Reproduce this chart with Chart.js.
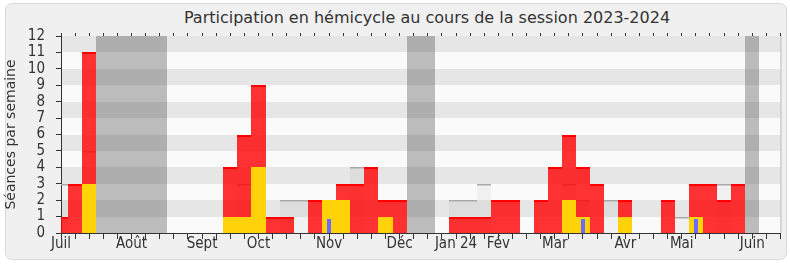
<!DOCTYPE html>
<html>
<head>
<meta charset="utf-8">
<script src="https://cdn.jsdelivr.net/npm/chart.js@4/dist/chart.umd.min.js"></script>
<style>
  body { margin: 0; background: #fff; }
  #wrap { position: relative; width: 790px; height: 267px; }
  #panel { position: absolute; left: 5px; top: 3px; width: 780px; height: 255px;
           background: #f0f0f0; border: 1px solid #d9d9d9; border-radius: 7px; }
  #title { position: absolute; left: 177px; width: 500px; top: 8px; line-height: 22px;
           text-align: center; font: 16px 'DejaVu Sans'; color: #333; }
  canvas { position: absolute; left: 0; top: 0; }
</style>
</head>
<body>
<div id="wrap">
  <div id="panel"></div>
  <div id="title">Participation en hémicycle au cours de la session 2023-2024</div>
  <canvas id="chart" width="790" height="267"></canvas>
</div>
<script>
// one value per week, week 0 = start of July 2023
const weeks = Array.from({length: 52}, (_, i) => i);

const monthLabels = {0: "Juil", 5: "Août", 10: "Sept", 14: "Oct", 19: "Nov", 24: "Déc",
  28: "Jan 24", 31: "Fév", 35: "Mar", 40: "Avr", 44: "Mai", 49: "Juin"};

const vacances = [3, 4, 5, 6, 7, 25, 26, 49];

// séances en hémicycle (rouge)
const seances = [1, 3, 11, 0, 0, 0, 0, 0, 0, 0, 0, 0, 4, 6, 9, 1, 1, 0, 2, 2,
  3, 3, 4, 2, 2, 0, 0, 0, 1, 1, 1, 2, 2, 0, 2, 4, 6, 4, 3, 0,
  2, 0, 0, 2, 0, 3, 3, 2, 3, 0, 0, 0];

// interventions (jaune)
const interventions = [0, 0, 3, 0, 0, 0, 0, 0, 0, 0, 0, 0, 1, 1, 4, 0, 0, 0, 0, 2,
  2, 0, 0, 1, 0, 0, 0, 0, 0, 0, 0, 0, 0, 0, 0, 0, 2, 1, 0, 0,
  1, 0, 0, 0, 0, 1, 0, 0, 0, 0, 0, 0];

// questions orales (bleu)
const questions = [0, 0, 0, 0, 0, 0, 0, 0, 0, 0, 0, 0, 0, 0, 0, 0, 0, 0, 0, 0.87,
  0, 0, 0, 0, 0, 0, 0, 0, 0, 0, 0, 0, 0, 0, 0, 0, 0, 0.87, 0, 0,
  0, 0, 0, 0, 0, 0.87, 0, 0, 0, 0, 0, 0];

// présence médiane (gris)
const mediane = [3, 0, 5, 0, 0, 0, 0, 0, 0, 0, 0, 0, 0, 3, 0, 0, 2, 2, 0, 0,
  0, 4, 0, 0, 0, 0, 0, 0, 2, 2, 3, 0, 0, 0, 0, 0, 3, 2, 0, 2,
  0, 0, 0, 0, 1, 0, 0, 3, 0, 0, 0, 0];

const yMax = 12;

const pts = arr => weeks.map(w => ({x: w, y: arr[w] ? arr[w] : null}));

const bands = {
  id: "bands",
  beforeDraw(chart) {
    const {ctx, chartArea: a, scales: {y}} = chart;
    ctx.save();
    for (let v = 0; v < yMax; v++) {
      const top = Math.round(y.getPixelForValue(v + 1)), bottom = Math.round(y.getPixelForValue(v));
      ctx.fillStyle = v % 2 ? "#e6e6e6" : "#fafafa";
      ctx.fillRect(a.left, top, a.right - a.left, bottom - top);
    }
    ctx.strokeStyle = "#bbbbbb";
    ctx.beginPath();
    ctx.moveTo(a.right + 0.5, a.top);
    ctx.lineTo(a.right + 0.5, a.bottom);
    ctx.stroke();
    ctx.restore();
  }
};

// snap bar edges to whole pixels so neighbouring weeks join without seams
const snap = {
  id: "snap",
  afterDatasetsUpdate(chart) {
    chart.getSortedVisibleDatasetMetas().forEach(meta => {
      meta.data.forEach(el => {
        const l = Math.round(el.x - el.width / 2), r = Math.round(el.x + el.width / 2);
        el.x = (l + r) / 2;
        el.width = r - l;
        el.y = Math.round(el.y);
        el.base = Math.round(el.base);
        el.height = el.base - el.y;
      });
    });
  }
};

const tickFont = {family: "'DejaVu Sans Condensed', 'DejaVu Sans'", size: 15, lineHeight: 1};

new Chart(document.getElementById("chart"), {
  type: "bar",
  data: {
    datasets: [
      {
        data: weeks.map(w => ({x: w, y: vacances.includes(w) ? yMax : null})),
        backgroundColor: "rgba(47,47,47,0.3)",
        order: 5
      },
      {
        data: pts(mediane),
        backgroundColor: "rgba(0,0,0,0.035)",
        borderColor: "#a9a9a9",
        borderWidth: {top: 1.5, left: 0, right: 0, bottom: 0},
        order: 4
      },
      {
        data: pts(seances),
        backgroundColor: "rgba(255,0,0,0.8)",
        borderColor: "#ff0000",
        borderWidth: {top: 2, left: 0, right: 0, bottom: 0},
        order: 3
      },
      {
        data: pts(interventions),
        backgroundColor: "#ffd20a",
        order: 2
      },
      {
        data: pts(questions),
        backgroundColor: "#6b6bff",
        barThickness: 4,
        order: 1
      }
    ]
  },
  options: {
    responsive: false,
    animation: false,
    events: [],
    layout: {padding: {left: 3, right: 9.5, top: 33, bottom: 0}},
    datasets: {
      bar: {grouped: false, barPercentage: 1, categoryPercentage: 1, inflateAmount: 0, clip: 0}
    },
    plugins: {
      legend: {display: false},
      tooltip: {enabled: false}
    },
    scales: {
      x: {
        type: "linear",
        offset: false,
        min: 0,
        max: 51,
        afterFit: s => { s.height = 34; },
        grid: {drawOnChartArea: false, tickLength: 6, tickColor: "#333", offset: false},
        border: {color: "#333"},
        ticks: {
          stepSize: 1,
          autoSkip: false,
          maxRotation: 0,
          padding: -2,
          color: "#333",
          font: tickFont,
          callback: v => monthLabels[v] || ""
        }
      },
      x2: {
        type: "linear",
        position: "top",
        offset: false,
        min: 0,
        max: 51,
        afterFit: s => { s.height = 3; },
        grid: {drawOnChartArea: false, tickLength: 3, tickColor: "#333", offset: false},
        border: {display: false},
        ticks: {stepSize: 1, autoSkip: false, display: false}
      },
      y: {
        min: 0,
        max: yMax,
        afterFit: s => { s.width = 58; },
        grid: {drawOnChartArea: false, tickLength: 5, tickColor: "#333"},
        border: {color: "#333"},
        ticks: {stepSize: 1, autoSkip: false, padding: 11, color: "#333", font: tickFont},
        title: {
          display: true,
          text: "Séances par semaine",
          color: "#333",
          padding: {top: 0, bottom: 0},
          font: {family: "'DejaVu Sans'", size: 14}
        }
      }
    }
  },
  plugins: [bands, snap]
});
</script>
</body>
</html>
